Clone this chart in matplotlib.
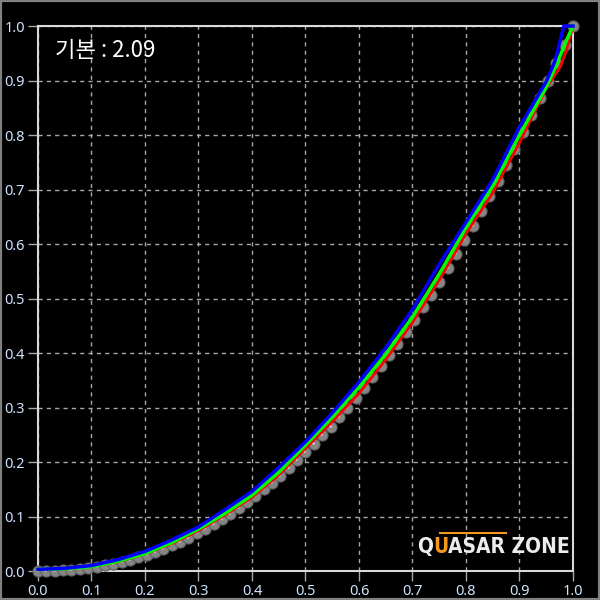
import matplotlib
matplotlib.use('Agg')
import matplotlib.pyplot as plt
from matplotlib.patches import Rectangle
from matplotlib.lines import Line2D
from matplotlib import transforms

# Reference (target) curve points, grey dots
ref_x = [0.0, 0.0156, 0.0313, 0.0469, 0.0625, 0.0781, 0.0938, 0.1094, 0.125, 0.1406,
         0.1563, 0.1719, 0.1875, 0.2031, 0.2188, 0.2344, 0.25, 0.2656, 0.2813, 0.2969,
         0.3125, 0.3281, 0.3438, 0.3594, 0.375, 0.3906, 0.4063, 0.4219, 0.4375, 0.4531,
         0.4688, 0.4844, 0.5, 0.5156, 0.5313, 0.5469, 0.5625, 0.5781, 0.5938, 0.6094,
         0.625, 0.6406, 0.6563, 0.6719, 0.6875, 0.7031, 0.7188, 0.7344, 0.75, 0.7656,
         0.7813, 0.7969, 0.8125, 0.8281, 0.8438, 0.8594, 0.875, 0.8906, 0.9063, 0.9219,
         0.9375, 0.9531, 0.9688, 0.9844, 1.0]
ref_y = [0.0, 0.0001, 0.0005, 0.0012, 0.0022, 0.0037, 0.0055, 0.0077, 0.0103, 0.0134,
         0.0168, 0.0208, 0.0252, 0.0300, 0.0353, 0.0411, 0.0474, 0.0541, 0.0614, 0.0691,
         0.0774, 0.0862, 0.0955, 0.1053, 0.1156, 0.1264, 0.1378, 0.1498, 0.1622, 0.1752,
         0.1888, 0.2030, 0.2176, 0.2329, 0.2487, 0.2651, 0.2820, 0.2995, 0.3176, 0.3363,
         0.3556, 0.3754, 0.3959, 0.4169, 0.4386, 0.4608, 0.4836, 0.5070, 0.5310, 0.5557,
         0.5809, 0.6068, 0.6333, 0.6604, 0.6881, 0.7165, 0.7454, 0.7751, 0.8053, 0.8362,
         0.8676, 0.8997, 0.9325, 0.9659, 1.0]

# Measured channel curves
red_x = [0.0, 0.05, 0.1, 0.15, 0.2, 0.25, 0.3, 0.35, 0.4, 0.45, 0.5, 0.55, 0.6, 0.65,
         0.7, 0.75, 0.8, 0.85, 0.9, 0.95, 0.976, 0.988, 1.0]
red_y = [0.003, 0.004, 0.008, 0.017, 0.031, 0.050, 0.074, 0.103, 0.135, 0.176, 0.225,
         0.274, 0.326, 0.388, 0.456, 0.534, 0.619, 0.694, 0.786, 0.886, 0.925, 0.956, 1.0]

green_x = [0.0, 0.05, 0.1, 0.15, 0.2, 0.25, 0.3, 0.35, 0.4, 0.45, 0.5, 0.55, 0.6, 0.65,
           0.7, 0.75, 0.8, 0.85, 0.9, 0.95, 0.97, 0.988, 1.0]
green_y = [0.003, 0.004, 0.008, 0.018, 0.032, 0.052, 0.077, 0.106, 0.139, 0.181, 0.231,
           0.282, 0.337, 0.398, 0.466, 0.545, 0.630, 0.706, 0.800, 0.888, 0.931, 0.974, 1.0]

blue_x = [0.0, 0.05, 0.1, 0.15, 0.2, 0.25, 0.3, 0.35, 0.4, 0.45, 0.5, 0.55, 0.6, 0.65,
          0.7, 0.75, 0.8, 0.85, 0.9, 0.95, 0.966, 0.983, 1.0]
blue_y = [0.003, 0.005, 0.010, 0.021, 0.036, 0.057, 0.081, 0.113, 0.146, 0.190, 0.237,
          0.290, 0.347, 0.410, 0.480, 0.563, 0.640, 0.718, 0.815, 0.898, 0.935, 1.0, 1.0]

ticks = [0.0, 0.1, 0.2, 0.3, 0.4, 0.5, 0.6, 0.7, 0.8, 0.9, 1.0]
tick_labels = ['0.0', '0.1', '0.2', '0.3', '0.4', '0.5', '0.6', '0.7', '0.8', '0.9', '1.0']
title_text = '기본 : 2.09'

fig = plt.figure(figsize=(6, 6), dpi=100, facecolor='black')
ax = fig.add_axes([0.0633, 0.0483, 0.8917, 0.9083], facecolor='black')
ax.set_xlim(0, 1)
ax.set_ylim(0, 1)
ax.set_xticks(ticks, tick_labels)
ax.set_yticks(ticks, tick_labels)
ax.grid(True, color='#a8a8a8', linestyle=(0, (3, 3)), linewidth=1)
ax.set_axisbelow(True)
for s in ax.spines.values():
    s.set_color('#d9d9d9')
    s.set_linewidth(1.5)
ax.tick_params(colors='#a8a8a8', labelcolor='#cfe3ff', length=7, width=1,
               labelsize=10.5, pad=2.5)
for lab in ax.get_xticklabels() + ax.get_yticklabels():
    lab.set_fontfamily(['Noto Sans', 'DejaVu Sans'])

ax.plot(ref_x, ref_y, ls='none', marker='o', ms=8, mfc='#858585', mec='#5e5e5e',
        mew=0.8, clip_on=False, zorder=3)
hl = transforms.offset_copy(ax.transData, fig=fig, x=-1, y=1, units='dots')
ax.plot(ref_x, ref_y, ls='none', marker='o', ms=1.8, mfc='#dcdcdc', mec='none',
        transform=hl, clip_on=False, zorder=3.5)

ax.plot(red_x, red_y, color='#ff0000', lw=2.0, clip_on=False, zorder=4)
ax.plot(green_x, green_y, color='#00ff00', lw=2.5, clip_on=False, zorder=5)
ax.plot(blue_x, blue_y, color='#0000ff', lw=2.5, clip_on=False, zorder=6)

ax.text(0.032, 0.955, title_text, transform=ax.transAxes, color='white', fontsize=16,
        family=['Noto Sans CJK KR', 'DejaVu Sans'], va='center', ha='left')

# QUASAR ZONE wordmark
kw = dict(fontsize=15, fontweight='bold', family=['DejaVu Sans'], fontstretch='condensed')
t1 = ax.text(0.708, 0.033, 'Q', transform=ax.transAxes, color='#ececec',
             va='baseline', ha='left', **kw)
t2 = ax.annotate('U', xy=(1, 0), xycoords=t1, va='bottom', ha='left',
                 color='#f39a1e', **kw)
t3 = ax.annotate('ASAR ZONE', xy=(1, 0), xycoords=t2, va='bottom', ha='left',
                 color='#ececec', **kw)
fig.add_artist(Line2D([0.733, 0.843], [0.1117, 0.1117], transform=fig.transFigure,
                      color='#f39a1e', lw=1.5))

fig.add_artist(Rectangle((0, 0), 1, 1, transform=fig.transFigure, fill=False,
                         edgecolor='#808080', linewidth=3))

fig.savefig('out.png', dpi=100, facecolor='black')
